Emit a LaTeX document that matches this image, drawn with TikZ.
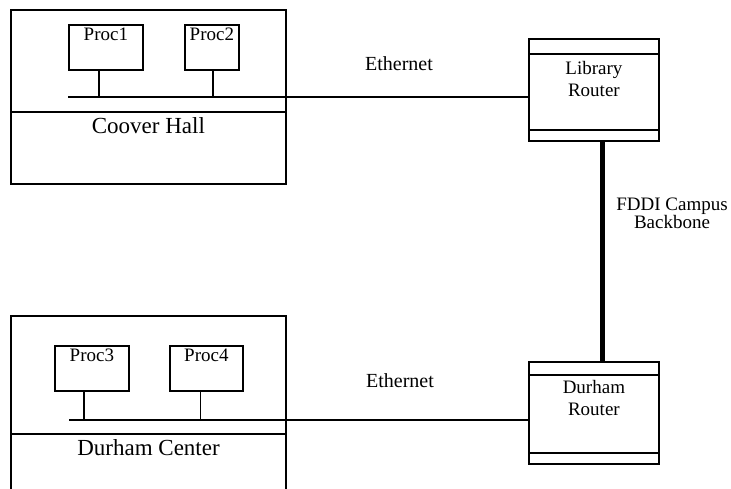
\documentclass[tikz,border=0pt]{standalone}
\usepackage{fontspec}
\setmainfont{Liberation Serif}
\usetikzlibrary{positioning, calc}

\tikzset{
  wire/.style={line width=1.8pt},
  backbone/.style={line width=5pt},
  procbox/.style={draw, wire, anchor=north west, minimum height=45pt, inner sep=2pt,
    text height=14pt, text depth=27pt, font=\fontsize{19}{21}\selectfont},
  routerbox/.style={draw, wire, anchor=north west, minimum width=130pt, minimum height=102pt},
  routertext/.style={anchor=north, inner sep=0pt, align=center, font=\fontsize{19}{22}\selectfont},
  hallbox/.style={draw, wire, anchor=north west, minimum width=275pt, minimum height=174pt},
  halltext/.style={anchor=north, inner sep=0pt, font=\fontsize{23}{25}\selectfont},
  nettext/.style={inner sep=1pt, font=\fontsize{20}{22}\selectfont},
}

\begin{document}
\begin{tikzpicture}[x=1pt, y=-1pt]
  \useasboundingbox (0,0) rectangle (731,489);

  % Coover Hall
  \node[hallbox] (coover) at (10,9) {};
  \draw[wire] ($(coover.north west)+(0,103)$) coordinate (cdiv) -- (cdiv -| coover.east);
  \node[halltext] (coovert) at ($(cdiv -| coover.north)+(0,5)$) {Coover Hall};
  \node[procbox, minimum width=74pt] (p1) at (68,24) {Proc1};
  \node[procbox, minimum width=54pt] (p2) at (184,24) {Proc2};

  % Durham Center (open at the bottom)
  \draw[wire] (11,489) |- (286,316) coordinate (dtop) -- (286,489);
  \draw[wire] (11,434) coordinate (ddiv) -- (ddiv -| dtop);
  \node[halltext] (durhamt) at (148.5,439) {Durham Center};
  \node[procbox, minimum width=74pt] (p3) at (54,345) {Proc3};
  \node[procbox, minimum width=73pt] (p4) at (169,345) {Proc4};

  % Routers
  \node[routerbox] (libr) at (528,38) {};
  \draw[wire] ($(libr.north west)+(0,16)$) -- ($(libr.north east)+(0,16)$);
  \draw[wire] ($(libr.south west)+(0,-12)$) -- ($(libr.south east)+(0,-12)$);
  \node[routertext] (librt) at ($(libr.north)+(0,23)$) {Library\\Router};

  \node[routerbox] (durr) at (528,361) {};
  \draw[wire] ($(durr.north west)+(0,14)$) -- ($(durr.north east)+(0,14)$);
  \draw[wire] ($(durr.south west)+(0,-12)$) -- ($(durr.south east)+(0,-12)$);
  \node[routertext] (durrt) at ($(durr.north)+(0,19)$) {Durham\\Router};

  % Ethernet segments
  \coordinate (cbus) at (68,97);
  \coordinate (dbus) at (69,420);
  \draw[wire] (cbus) -- (cbus -| libr.west);
  \draw[wire] (dbus) -- (dbus -| durr.west);
  \draw[wire] ([xshift=-7pt]p1.south) -- ([xshift=-7pt]p1.south |- cbus);
  \draw[wire] ([xshift=1pt]p2.south) -- ([xshift=1pt]p2.south |- cbus);
  \draw[wire] ([xshift=-8pt]p3.south) -- ([xshift=-8pt]p3.south |- dbus);
  \draw[wire] ([xshift=-6pt]p4.south) -- ([xshift=-6pt]p4.south |- dbus);
  \node[nettext] (eth1) at (399,64) {Ethernet};
  \node[nettext] (eth2) at (400,381) {Ethernet};

  % FDDI backbone
  \draw[backbone] ([xshift=9pt]libr.south) -- ([xshift=9pt]libr.south |- durr.north);
  \node[nettext, align=center, font=\fontsize{19}{17}\selectfont] (fddi) at (672,213)
    {FDDI Campus\\Backbone};
\end{tikzpicture}
\end{document}
